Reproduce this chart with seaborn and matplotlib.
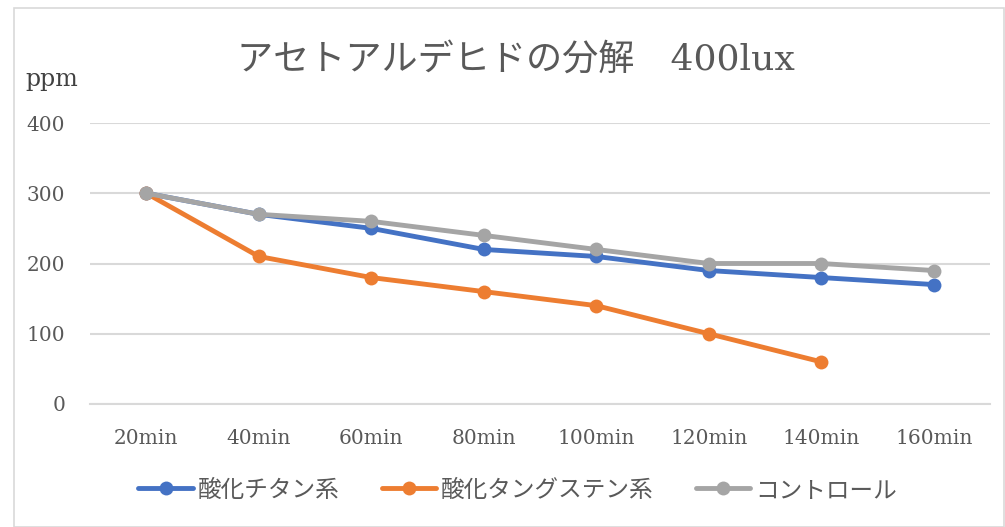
import numpy as np
import pandas as pd
import matplotlib.pyplot as plt
import seaborn as sns
from matplotlib.patches import Rectangle

sns.set_theme(style='white')
plt.rcParams['font.family'] = ['DejaVu Serif', 'Noto Sans CJK JP', 'DejaVu Sans']

times = ['20min', '40min', '60min', '80min', '100min', '120min', '140min', '160min']
titan = [300, 270, 250, 220, 210, 190, 180, 170]
tungsten = [300, 210, 180, 160, 140, 100, 60, np.nan]
control = [300, 270, 260, 240, 220, 200, 200, 190]

series = ['酸化チタン系', '酸化タングステン系', 'コントロール']
colors = ['#4472C4', '#ED7D31', '#A5A5A5']

df = pd.DataFrame({'time': times * 3,
                   'ppm': titan + tungsten + control,
                   'series': np.repeat(series, len(times))})

fig = plt.figure(figsize=(10.05, 5.27), dpi=100)
ax = fig.add_axes([0.0896, 0.2334, 0.8955, 0.5332])

sns.lineplot(data=df, x='time', y='ppm', hue='series', palette=colors,
             marker='o', markersize=10, markeredgewidth=0, linewidth=3.5,
             sort=False, ax=ax, legend=True)

ax.set_xlim(-0.5, 7.5)
ax.set_ylim(0, 400)
ax.set_yticks([0, 100, 200, 300, 400])
ax.yaxis.grid(True, color='#d9d9d9', linewidth=1.5)
ax.set_axisbelow(True)
for s in ['top', 'right', 'left']:
    ax.spines[s].set_visible(False)
ax.spines['bottom'].set_color('#d9d9d9')
ax.spines['bottom'].set_linewidth(1.5)
ax.tick_params(axis='both', length=0, labelsize=14.5, labelcolor='#595959')
ax.tick_params(axis='y', pad=18)
ax.tick_params(axis='x', pad=18)
ax.set_xlabel('')
ax.set_ylabel('')

fig.text(0.513, 0.887, 'アセトアルデヒドの分解　400lux', ha='center', va='center',
         fontsize=26, color='#595959')
fig.text(0.025, 0.85, 'ppm', ha='left', va='center', fontsize=17, color='#404040')

handles, labels = ax.get_legend_handles_labels()
ax.legend(handles, labels, loc='center', bbox_to_anchor=(0.515, 0.07),
          bbox_transform=fig.transFigure, ncol=3, frameon=False, fontsize=17,
          labelcolor='#595959', handlelength=2.3, handletextpad=0.2, columnspacing=1.8)

fig.patches.append(Rectangle((0.014, 0.0), 0.985, 0.985, transform=fig.transFigure,
                             fill=False, edgecolor='#d9d9d9', linewidth=1.2))

fig.savefig('out.png', dpi=100)
